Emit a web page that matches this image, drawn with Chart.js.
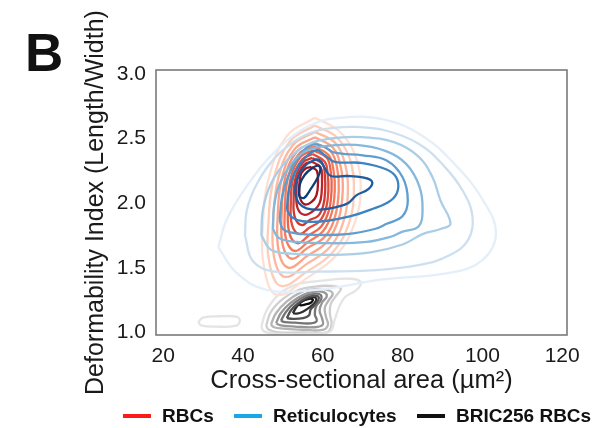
<!DOCTYPE html>
<html>
<head>
<meta charset="utf-8">
<script src="https://cdn.jsdelivr.net/npm/chart.js@4.4.1/dist/chart.umd.min.js"></script>
<style>
    html, body { margin: 0; padding: 0; background: #fff; }
    #wrap { position: relative; width: 607px; height: 428px; font-family: 'Liberation Sans', Arial, sans-serif; color: #111; }
    #panel { position: absolute; left: 25px; top: 26px; font-size: 53px; font-weight: bold; line-height: 53px; }
    .item { position: absolute; top: 404px; height: 24px; line-height: 24px; font-size: 19px; font-weight: bold; white-space: nowrap; }
    .item i { display: inline-block; width: 28px; height: 4px; margin-right: 11px; vertical-align: middle; position: relative; top: -1px; }
</style>
</head>
<body>
<div id="wrap">
    <canvas id="chart" width="607" height="428"></canvas>
    <div id="panel">B</div>
    <div id="legend"></div>
</div>
<script>
/* ========== data ========== */

const xTicks = [20, 40, 60, 80, 100, 120];
const yTicks = [1.0, 1.5, 2.0, 2.5, 3.0];
const groups = ['RBCs', 'Reticulocytes', 'BRIC256 RBCs'];

// density contours, outermost level first: [area µm², DI]
const rbcLevels = [
    [[58, 2.66], [64, 2.56], [68, 2.38], [69.5, 2.12], [68, 1.85], [63.5, 1.6], [56, 1.42], [48.5, 1.29], [45.3, 1.5], [45, 1.85], [46.5, 2.2], [51, 2.52]],
    [[58, 2.60], [63.5, 2.51], [66.8, 2.34], [67.8, 2.1], [66.5, 1.84], [62.5, 1.62], [56, 1.47], [49.5, 1.36], [46.6, 1.54], [46.4, 1.86], [47.8, 2.2], [51.8, 2.48]],
    [[58, 2.55], [63, 2.47], [65.6, 2.3], [66.3, 2.1], [65.2, 1.86], [61.8, 1.66], [56, 1.53], [50.5, 1.43], [47.8, 1.58], [47.6, 1.88], [48.9, 2.2], [52.5, 2.45]],
    [[58, 2.51], [62.5, 2.43], [64.5, 2.28], [65, 2.1], [64, 1.88], [61, 1.7], [56, 1.59], [51.5, 1.5], [49, 1.62], [48.7, 1.9], [49.8, 2.2], [53, 2.42]],
    [[57.8, 2.47], [62, 2.4], [63.6, 2.27], [64, 2.1], [63.1, 1.9], [60.5, 1.74], [56, 1.65], [52.3, 1.57], [50, 1.67], [49.7, 1.92], [50.6, 2.2], [53.5, 2.4]],
    [[57.7, 2.44], [61.5, 2.37], [62.7, 2.25], [63, 2.1], [62.2, 1.92], [60, 1.78], [56.3, 1.7], [53, 1.63], [50.8, 1.72], [50.5, 1.95], [51.3, 2.2], [54, 2.38]],
    [[57.6, 2.41], [61, 2.35], [62, 2.24], [62.2, 2.1], [61.5, 1.94], [59.6, 1.82], [56.5, 1.75], [53.6, 1.69], [51.6, 1.77], [51.3, 1.97], [52, 2.2], [54.5, 2.36]],
    [[57.5, 2.38], [60.5, 2.32], [61.2, 2.23], [61.4, 2.1], [60.8, 1.96], [59.2, 1.86], [56.6, 1.81], [54.2, 1.76], [52.3, 1.83], [52, 2.0], [52.6, 2.2], [54.9, 2.34]],
    [[57.4, 2.35], [60, 2.3], [60.5, 2.22], [60.6, 2.1], [60.1, 1.98], [58.8, 1.9], [56.7, 1.87], [54.8, 1.83], [53, 1.89], [52.7, 2.03], [53.2, 2.2], [55.2, 2.32]],
    [[57.3, 2.32], [59.4, 2.28], [59.8, 2.2], [59.7, 2.08], [59.2, 2.0], [58, 1.95], [55.5, 1.91], [53.7, 1.96], [53.4, 2.08], [53.8, 2.21], [55.5, 2.3]],
    [[57.1, 2.28], [58.5, 2.25], [58.8, 2.16], [58.4, 2.06], [57.2, 2.01], [55.5, 1.99], [54.3, 2.04], [54.1, 2.14], [54.6, 2.23], [55.8, 2.27]],
];

const retLevels = [
    [[33.8, 1.66], [35.9, 1.87], [40.9, 2.13], [48.4, 2.41], [56.7, 2.6], [64.2, 2.66], [75, 2.65], [85, 2.52], [93.4, 2.29], [100, 2.03], [103.4, 1.77], [100, 1.56], [91.7, 1.46], [75, 1.41], [58.4, 1.33], [45.9, 1.33], [38.4, 1.46]],
    [[40.5, 1.75], [41, 1.95], [43.5, 2.15], [48, 2.35], [54, 2.5], [60, 2.57], [68, 2.59], [76, 2.56], [84, 2.46], [90, 2.3], [95, 2.1], [97.5, 1.9], [96.5, 1.72], [92, 1.6], [84, 1.52], [72, 1.48], [58, 1.47], [48, 1.47], [42.5, 1.55]],
    [[44.6, 1.75], [45, 1.95], [47, 2.15], [51, 2.33], [56, 2.45], [62, 2.5], [70, 2.51], [78, 2.47], [84, 2.36], [87.5, 2.2], [89.5, 2.02], [92, 1.84], [89.5, 1.8], [85, 1.76], [80, 1.68], [72, 1.62], [62, 1.6], [52, 1.61], [47, 1.64]],
    [[47.5, 1.8], [47.8, 1.98], [49.2, 2.15], [52, 2.3], [55.5, 2.4], [60, 2.44], [68.4, 2.45], [76, 2.4], [81, 2.3], [84.2, 2.13], [85, 1.95], [84, 1.82], [80, 1.78], [77, 1.74], [71, 1.7], [62, 1.69], [53.4, 1.7], [49, 1.73]],
    [[49.2, 1.87], [49.8, 2.05], [51.5, 2.22], [54, 2.36], [57, 2.45], [60, 2.44], [63, 2.39], [70, 2.37], [76, 2.33], [80, 2.2], [81.3, 2.02], [80, 1.9], [76, 1.84], [73, 1.8], [66, 1.76], [58, 1.755], [52.5, 1.77], [50, 1.8]],
    [[51, 1.95], [51.5, 2.1], [53, 2.24], [55.5, 2.35], [58.5, 2.41], [60.5, 2.37], [63, 2.32], [70, 2.31], [76, 2.26], [78.4, 2.2], [78.8, 2.1], [77, 2.02], [72, 1.95], [67, 1.9], [60, 1.86], [55, 1.86], [52.3, 1.89]],
    [[53, 2.08], [53.5, 2.18], [55, 2.27], [57.5, 2.33], [59.3, 2.33], [60.5, 2.27], [62, 2.21], [66, 2.21], [70, 2.2], [72.3, 2.17], [71.5, 2.11], [68.4, 2.06], [66.3, 2.0], [63.4, 1.97], [59.2, 1.95], [55.9, 1.96], [54, 2.0]],
    [[54, 2.05], [54.3, 2.15], [55.5, 2.22], [57.3, 2.27], [58.8, 2.29], [59.4, 2.26], [58.6, 2.19], [57, 2.11], [55.3, 2.04]],
];

const bricLevels = [
    [[28.8, 1.08], [30, 1.115], [34, 1.125], [38.5, 1.12], [39.2, 1.085], [38, 1.05], [33, 1.045], [29.5, 1.055]],
    [[44.6, 1.045], [45.9, 1.17], [49.2, 1.3], [53.4, 1.37], [60, 1.4], [66.7, 1.415], [69.5, 1.39], [68.5, 1.33], [65.5, 1.27], [64, 1.19], [63, 1.1], [61.7, 1.005], [56, 0.99], [48, 0.99], [45.2, 1.01]],
    [[45.8, 1.05], [47, 1.16], [50, 1.26], [54, 1.33], [58, 1.355], [62, 1.36], [64.5, 1.34], [63.5, 1.29], [62, 1.22], [61.8, 1.14], [62.2, 1.06], [61, 1.0], [55, 1.0], [49, 1.0], [46.5, 1.02]],
    [[47, 1.06], [48.3, 1.15], [51, 1.24], [54.5, 1.31], [58, 1.335], [61, 1.33], [62.5, 1.3], [61.5, 1.25], [60.5, 1.19], [60.8, 1.12], [61.3, 1.06], [60, 1.02], [55, 1.02], [50, 1.03], [47.8, 1.04]],
    [[48.3, 1.07], [49.5, 1.15], [52, 1.23], [55, 1.29], [58, 1.315], [60.3, 1.31], [61, 1.28], [59.8, 1.23], [59.2, 1.17], [59.8, 1.11], [60, 1.06], [58, 1.04], [53, 1.045], [49.5, 1.055]],
    [[49.5, 1.09], [50.8, 1.16], [53, 1.23], [55.5, 1.28], [58, 1.3], [59.5, 1.29], [59.5, 1.25], [58.3, 1.2], [58, 1.14], [58.5, 1.09], [57, 1.07], [53, 1.075], [50.5, 1.08]],
    [[51, 1.11], [52, 1.17], [54, 1.23], [56, 1.27], [58, 1.285], [59, 1.27], [58.3, 1.22], [57, 1.18], [56.5, 1.13], [55, 1.11], [52.5, 1.105]],
    [[52.5, 1.15], [53.5, 1.2], [55, 1.245], [57, 1.27], [58.3, 1.265], [58, 1.23], [56.5, 1.19], [55, 1.16], [53.5, 1.145]],
    [[54, 1.22], [55, 1.245], [56.5, 1.26], [57.5, 1.255], [57, 1.23], [55.5, 1.215], [54.5, 1.21]],
];

/* ========== styles ========== */

const palette = {
    text: '#1a1a1a',
    frame: '#7a7a7a',
    legend: ['#ff1a1a', '#1aa7e8', '#111111'],
};
const rbcColors = ['#fde0d3', '#fdcdb9', '#fcb9a0', '#fba487', '#f98f70', '#f47a5c', '#ec644b', '#e04d3d', '#d03831', '#bc2428', '#a5141d'];
const retColors = ['#e4eff9', '#cde0f1', '#abcee7', '#84b8dc', '#5e9fd0', '#3c83c1', '#1e5ca1', '#0e3b78'];
const bricColors = ['#e4e4e4', '#e4e4e4', '#cfcfcf', '#b5b5b5', '#979797', '#767676', '#525252', '#2f2f2f', '#0d0d0d'];
const fontFamily = "'Liberation Sans', Arial, sans-serif";

function closeLoop(pts) {
    return pts.concat([pts[0]]).map(([x, y]) => ({ x, y }));
}

function contourSets(levels, colors, order) {
    return levels.map((pts, i) => ({
        data: closeLoop(pts),
        showLine: true,
        borderColor: colors[i],
        borderWidth: 2.3,
        pointRadius: 0,
        tension: 0.4,
        fill: false,
        order,
    }));
}

const framePlugin = {
    id: 'frame',
    afterDatasetsDraw(chart) {
        const { ctx, chartArea: a } = chart;
        ctx.save();
        ctx.strokeStyle = palette.frame;
        ctx.lineWidth = 1.6;
        ctx.strokeRect(a.left, a.top, a.right - a.left, a.bottom - a.top);
        ctx.restore();
    },
};

new Chart(document.getElementById('chart'), {
    type: 'scatter',
    data: {
        datasets: [
            ...contourSets(retLevels, retColors, 1),
            ...contourSets(rbcLevels, rbcColors, 2),
            ...contourSets(bricLevels, bricColors, 3),
        ],
    },
    options: {
        responsive: false,
        animation: false,
        layout: { padding: { top: 70, right: 40, left: 0, bottom: 0 } },
        plugins: { legend: { display: false }, tooltip: { enabled: false } },
        scales: {
            x: {
                type: 'linear',
                min: 18.2,
                max: 121.2,
                afterBuildTicks: s => { s.ticks = xTicks.map(v => ({ value: v })); },
                afterFit: s => { s.height = 93; },
                grid: { display: false, drawTicks: false },
                border: { display: false },
                ticks: { color: palette.text, padding: 9, font: { family: fontFamily, size: 21 } },
                title: {
                    display: true,
                    text: 'Cross-sectional area (µm²)',
                    color: palette.text,
                    font: { family: fontFamily, size: 25.5 },
                    padding: { top: 0, bottom: 32 },
                },
            },
            y: {
                type: 'linear',
                min: 0.98,
                max: 3.03,
                afterBuildTicks: s => { s.ticks = yTicks.map(v => ({ value: v })); },
                afterFit: s => { s.width = 156; },
                grid: { display: false, drawTicks: false },
                border: { display: false },
                ticks: { color: palette.text, padding: 10, font: { family: fontFamily, size: 21 }, callback: v => v.toFixed(1) },
                title: {
                    display: true,
                    text: 'Deformability Index (Length/Width)',
                    color: palette.text,
                    font: { family: fontFamily, size: 25 },
                    padding: { top: 81, bottom: 0 },
                },
            },
        },
    },
    plugins: [framePlugin],
});

// legend under the plot
const legendLeft = [123, 234, 417];
const legendBox = document.getElementById('legend');
groups.forEach((name, i) => {
    const item = document.createElement('div');
    item.className = 'item';
    item.style.left = legendLeft[i] + 'px';
    item.innerHTML = `<i style="background:${palette.legend[i]}"></i>${name}`;
    legendBox.appendChild(item);
});
</script>
</body>
</html>
